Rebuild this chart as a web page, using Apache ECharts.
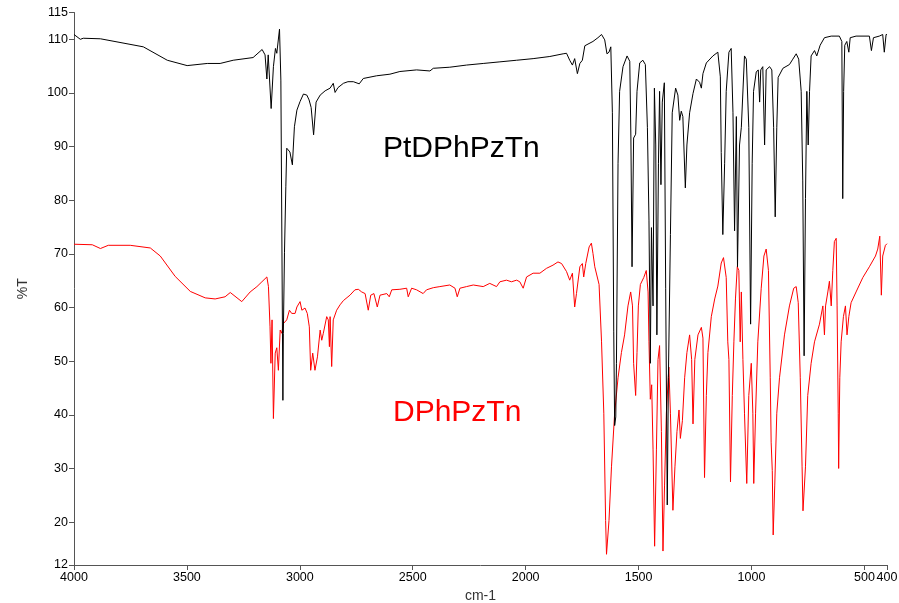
<!DOCTYPE html>
<html>
<head>
<meta charset="utf-8">
<title>IR spectra</title>
<script src="https://cdn.jsdelivr.net/npm/echarts@6/dist/echarts.min.js"></script>
<style>
  html, body { margin: 0; padding: 0; background: #fff; }
  #chart { width: 899px; height: 603px; }
</style>
</head>
<body>
<div id="chart"></div>
<script>
// wavenumber ticks (cm-1) and %T ticks
var xTicks = [4000, 3500, 3000, 2500, 2000, 1500, 1000, 500, 400];
var yTicks = [12, 20, 30, 40, 50, 60, 70, 80, 90, 100, 110, 115];

// PtDPhPzTn (black)
var ptWave = [4000, 3972, 3959, 3883, 3693, 3587, 3499, 3410, 3353, 3295, 3207, 3167, 3154, 3146, 3140, 3127, 3117, 3108, 3102, 3090, 3084, 3075, 3073, 3068, 3062, 3058, 3051, 3044, 3039, 3033, 3024, 3013, 2999, 2984, 2969, 2959, 2950, 2939, 2928, 2910, 2888, 2866, 2852, 2844, 2831, 2807, 2787, 2763, 2737, 2719, 2660, 2601, 2557, 2483, 2424, 2409, 2336, 2262, 2188, 2114, 2040, 1967, 1893, 1834, 1819, 1805, 1793, 1783, 1771, 1760, 1749, 1738, 1702, 1680, 1664, 1650, 1640, 1631, 1623, 1616, 1610, 1606, 1601, 1598, 1591, 1584, 1569, 1551, 1539, 1534, 1529, 1522, 1513, 1507, 1495, 1481, 1470, 1461, 1454, 1448, 1443, 1436, 1430, 1424, 1419, 1412, 1407, 1401, 1395, 1386, 1380, 1373, 1368, 1359, 1351, 1336, 1326, 1318, 1311, 1304, 1293, 1286, 1274, 1259, 1244, 1230, 1222, 1215, 1200, 1171, 1149, 1138, 1134, 1127, 1119, 1112, 1100, 1090, 1082, 1075, 1067, 1062, 1053, 1045, 1031, 1023, 1012, 1004, 997, 991, 979, 970, 964, 959, 950, 942, 935, 920, 910, 902, 895, 888, 882, 861, 832, 817, 802, 791, 780, 773, 767, 761, 755, 749, 743, 736, 721, 711, 696, 677, 647, 611, 600, 596, 592, 587, 578, 569, 563, 537, 478, 469, 460, 434, 419, 412, 404, 400];
var ptT = [110.9, 110.0, 110.2, 110.1, 108.6, 106.1, 105.1, 105.5, 105.5, 106.1, 106.6, 108.1, 107.1, 102.6, 107.1, 97.1, 104.9, 108.3, 107.4, 111.9, 102.4, 42.7, 55.2, 70.2, 82.5, 89.7, 90.0, 89.0, 89.3, 86.6, 93.7, 96.8, 98.4, 99.8, 99.6, 98.7, 97.3, 92.2, 98.3, 99.6, 100.4, 100.9, 101.8, 100.1, 101.0, 101.8, 102.1, 102.1, 101.7, 102.7, 103.2, 103.5, 104.0, 104.3, 104.1, 104.6, 104.8, 105.2, 105.5, 105.8, 106.1, 106.4, 106.8, 107.3, 107.4, 106.1, 105.2, 106.4, 103.6, 105.5, 106.1, 108.8, 109.6, 110.3, 110.9, 109.9, 107.3, 107.6, 108.6, 96.3, 55.6, 38.0, 39.6, 49.6, 86.9, 100.3, 104.9, 106.9, 105.9, 91.6, 67.6, 91.6, 92.3, 100.3, 105.6, 106.1, 105.3, 93.6, 76.3, 49.6, 74.9, 60.3, 100.9, 90.3, 54.9, 86.9, 100.3, 82.9, 98.3, 101.9, 63.6, 23.2, 46.9, 73.6, 96.3, 100.9, 99.6, 94.9, 96.6, 95.6, 82.3, 90.3, 96.3, 99.9, 102.6, 102.0, 100.9, 103.6, 105.6, 106.9, 107.6, 103.0, 88.9, 73.6, 86.9, 100.3, 107.6, 108.3, 96.3, 74.3, 95.6, 67.6, 90.3, 93.6, 106.9, 106.3, 93.6, 56.9, 86.9, 100.3, 103.9, 104.3, 98.3, 104.3, 104.9, 90.3, 104.3, 104.9, 104.3, 93.6, 76.9, 93.6, 102.9, 104.6, 105.3, 106.3, 107.3, 106.3, 100.3, 83.6, 51.0, 80.3, 100.3, 90.3, 100.3, 106.9, 107.9, 106.9, 108.9, 110.3, 110.6, 110.6, 109.6, 80.3, 100.3, 108.9, 109.6, 107.6, 110.3, 110.6, 110.6, 107.9, 110.3, 110.6, 110.9, 107.6, 110.9, 110.9];

// DPhPzTn (red)
var dWave = [4000, 3919, 3883, 3848, 3751, 3662, 3618, 3552, 3485, 3419, 3375, 3331, 3308, 3257, 3220, 3190, 3168, 3146, 3139, 3132, 3128, 3123, 3117, 3109, 3102, 3095, 3087, 3080, 3073, 3058, 3046, 3036, 3021, 3013, 2999, 2991, 2977, 2967, 2958, 2952, 2943, 2933, 2922, 2910, 2903, 2896, 2881, 2874, 2869, 2866, 2859, 2852, 2837, 2822, 2807, 2778, 2756, 2741, 2726, 2711, 2697, 2686, 2672, 2657, 2645, 2615, 2604, 2593, 2557, 2527, 2520, 2505, 2483, 2454, 2439, 2409, 2380, 2336, 2313, 2303, 2291, 2262, 2232, 2188, 2159, 2129, 2114, 2085, 2063, 2040, 2026, 2011, 1996, 1967, 1937, 1908, 1879, 1857, 1841, 1819, 1805, 1793, 1783, 1775, 1760, 1749, 1743, 1734, 1719, 1709, 1702, 1694, 1687, 1675, 1664, 1654, 1646, 1642, 1631, 1620, 1606, 1591, 1576, 1562, 1547, 1535, 1527, 1522, 1513, 1507, 1501, 1492, 1477, 1466, 1458, 1454, 1448, 1442, 1436, 1429, 1421, 1414, 1407, 1399, 1392, 1385, 1377, 1366, 1359, 1348, 1339, 1330, 1321, 1315, 1306, 1296, 1286, 1274, 1265, 1259, 1251, 1237, 1222, 1215, 1208, 1200, 1193, 1178, 1163, 1149, 1134, 1124, 1112, 1105, 1100, 1093, 1085, 1078, 1071, 1063, 1056, 1050, 1045, 1038, 1031, 1021, 1012, 1001, 994, 990, 982, 972, 957, 945, 935, 925, 917, 913, 908, 904, 897, 888, 876, 854, 832, 813, 802, 793, 784, 776, 772, 761, 751, 736, 721, 699, 684, 677, 672, 662, 655, 647, 640, 633, 625, 621, 616, 614, 609, 603, 593, 584, 577, 569, 559, 537, 507, 478, 451, 441, 432, 425, 419, 407, 400];
var dT = [71.8, 71.7, 71.0, 71.6, 71.6, 71.1, 69.6, 65.8, 63.0, 61.8, 61.6, 62.0, 62.8, 61.1, 62.9, 63.9, 64.8, 65.7, 63.9, 56.4, 49.6, 57.7, 39.3, 51.5, 52.5, 48.3, 55.8, 55.2, 57.0, 57.7, 59.5, 58.9, 58.9, 60.1, 61.1, 59.5, 59.9, 58.9, 56.4, 48.3, 51.5, 48.3, 50.8, 55.8, 53.9, 55.2, 58.3, 57.7, 52.7, 58.3, 49.0, 57.7, 59.5, 60.5, 61.3, 62.3, 63.3, 63.4, 62.9, 62.6, 59.5, 62.3, 62.6, 60.1, 62.3, 62.6, 62.0, 63.3, 63.4, 63.6, 62.0, 63.6, 63.3, 62.6, 63.3, 63.7, 63.9, 64.2, 63.6, 62.0, 63.6, 63.9, 64.2, 63.9, 64.5, 63.9, 64.8, 65.1, 64.8, 65.1, 64.8, 63.6, 65.7, 66.4, 66.4, 67.3, 67.9, 68.5, 68.2, 66.7, 65.1, 66.4, 60.1, 62.6, 67.6, 68.2, 65.7, 68.2, 71.3, 72.0, 70.1, 67.6, 67.3, 64.3, 53.6, 40.3, 20.3, 14.0, 20.3, 30.3, 40.3, 46.9, 51.6, 54.9, 60.3, 62.9, 60.3, 49.6, 43.6, 51.6, 60.3, 64.3, 65.6, 66.9, 62.9, 53.6, 42.9, 45.6, 33.6, 15.5, 33.6, 50.3, 52.9, 36.9, 14.6, 26.9, 40.3, 48.9, 40.3, 22.2, 30.3, 36.9, 40.9, 35.6, 38.9, 46.9, 51.6, 54.9, 50.3, 38.3, 50.3, 54.9, 56.3, 54.3, 28.3, 43.6, 51.6, 58.3, 61.6, 64.0, 68.3, 69.3, 65.6, 53.6, 50.3, 27.5, 43.6, 53.6, 61.6, 67.6, 66.9, 53.6, 62.9, 50.3, 40.3, 27.2, 43.6, 49.6, 40.3, 27.2, 40.3, 53.6, 63.6, 69.6, 70.9, 66.9, 46.9, 34.9, 29.6, 17.6, 26.9, 40.3, 46.9, 54.9, 60.3, 63.6, 63.9, 60.9, 46.9, 30.3, 22.1, 30.3, 43.6, 49.6, 53.6, 56.9, 60.3, 54.9, 60.3, 62.9, 64.9, 60.3, 66.9, 72.3, 72.9, 60.3, 40.3, 30.0, 46.9, 53.6, 58.3, 60.3, 54.9, 58.3, 60.9, 62.9, 65.6, 67.6, 69.6, 70.9, 73.3, 62.3, 69.6, 71.6, 71.9];

function pairs(xs, ys) {
    var out = [];
    for (var i = 0; i < xs.length; i++) out.push([xs[i], ys[i]]);
    return out;
}

var chart = echarts.init(document.getElementById('chart'));

var axisFont = { fontFamily: 'Liberation Sans', fontSize: 12.5, color: '#000' };

var option = {
    animation: false,
    backgroundColor: '#fff',
    grid: { left: 74, right: 12, top: 12.5, bottom: 38, outerBoundsMode: 'none' },
    xAxis: {
        type: 'value',
        inverse: true,
        min: 400,
        max: 4000,
        name: 'cm-1',
        nameLocation: 'middle',
        nameGap: 22,
        nameTextStyle: { fontFamily: 'Liberation Sans', fontSize: 14, color: '#333' },
        splitLine: { show: false },
        axisLine: { lineStyle: { color: '#555', width: 1 } },
        axisTick: { show: true, length: 5, inside: false, customValues: xTicks, lineStyle: { color: '#555' } },
        axisLabel: Object.assign({
            margin: 6,
            customValues: xTicks,
            formatter: function (v) { return String(v); }
        }, axisFont)
    },
    yAxis: {
        type: 'value',
        min: 12,
        max: 115,
        name: '%T',
        nameLocation: 'middle',
        nameGap: 44,
        nameRotate: 90,
        nameTextStyle: { fontFamily: 'Liberation Sans', fontSize: 14, color: '#333' },
        splitLine: { show: false },
        axisLine: { show: true, lineStyle: { color: '#555', width: 1 } },
        axisTick: { show: true, length: 5, inside: false, customValues: yTicks, lineStyle: { color: '#555' } },
        axisLabel: Object.assign({
            margin: 6,
            customValues: yTicks,
            formatter: function (v) { return String(v); }
        }, axisFont)
    },
    series: [
        {
            name: 'DPhPzTn',
            type: 'line',
            data: pairs(dWave, dT),
            showSymbol: false,
            lineStyle: { color: '#ff0000', width: 1 }
        },
        {
            name: 'PtDPhPzTn',
            type: 'line',
            data: pairs(ptWave, ptT),
            showSymbol: false,
            lineStyle: { color: '#000000', width: 1 }
        }
    ],
    graphic: [
        {
            type: 'text',
            left: 383,
            top: 134,
            style: { text: 'PtDPhPzTn', fill: '#000', font: '30px "Liberation Sans"' }
        },
        {
            type: 'text',
            left: 393,
            top: 398,
            style: { text: 'DPhPzTn', fill: '#ff0000', font: '30px "Liberation Sans"' }
        }
    ]
};

chart.setOption(option);
</script>
</body>
</html>
